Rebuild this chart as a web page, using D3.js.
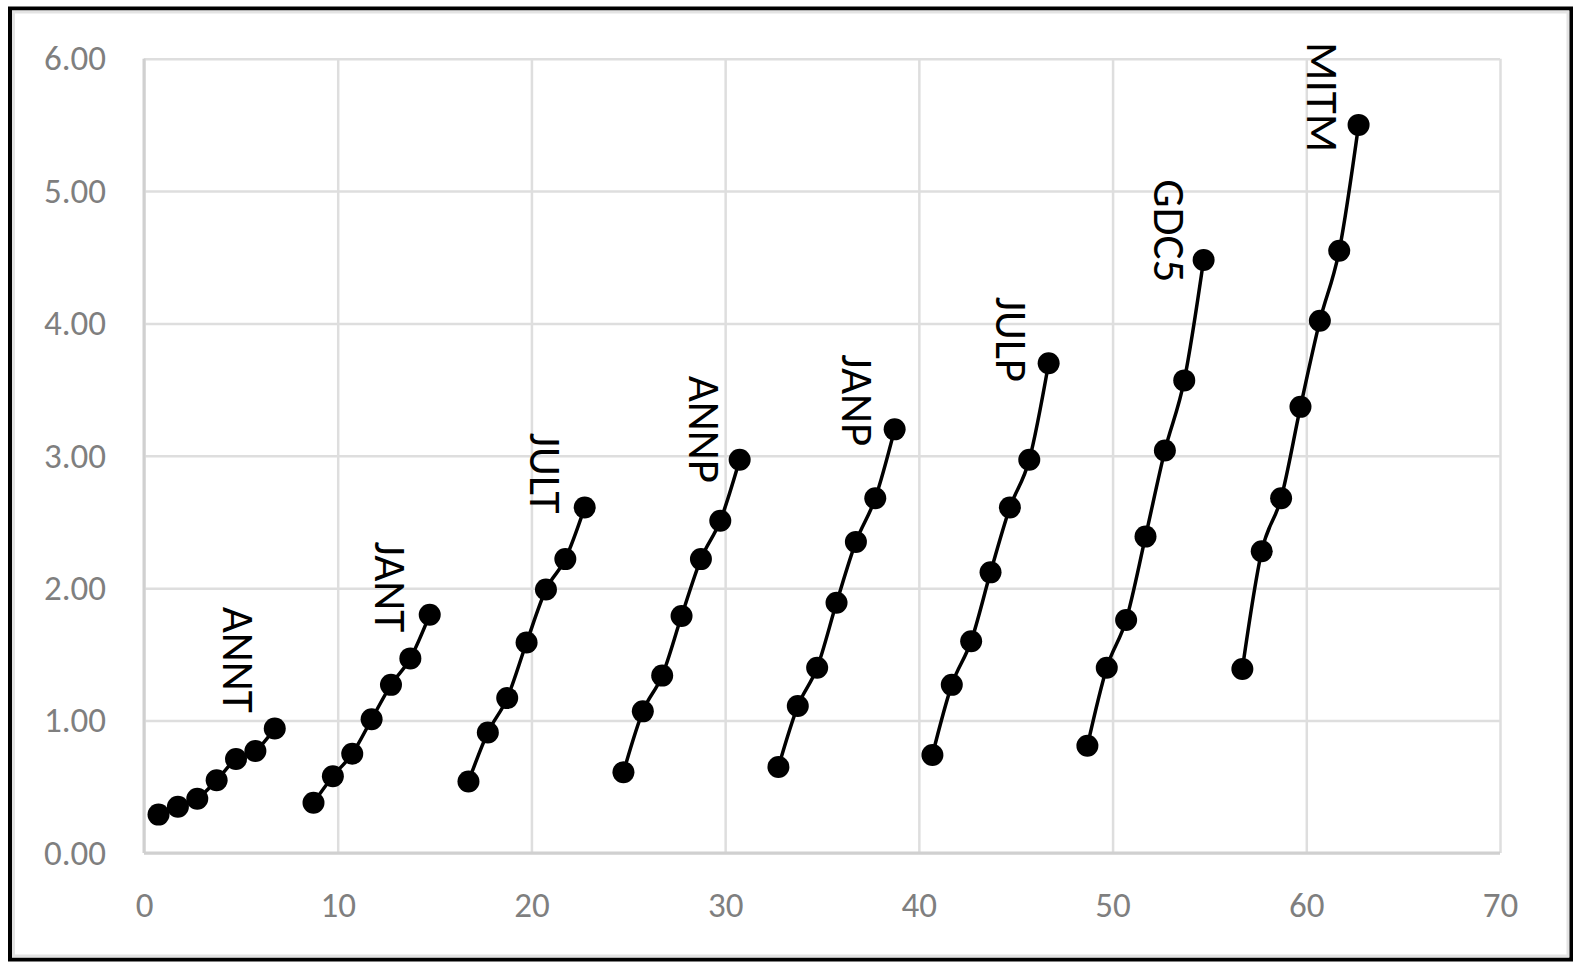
<!DOCTYPE html>
<html lang="en">
<head>
<meta charset="UTF-8"/>
<title>Groups scatter</title>
<script src="https://d3js.org/d3.v7.min.js"></script>
<style>
    body { margin: 0; background: #fff; }
    svg { display: block; }
    .tick-label { font-family: Carlito, Lato, "Open Sans", sans-serif; fill: #7f7f7f; }
    .series-label { font-family: Carlito, Lato, "Open Sans", sans-serif; fill: #000; }
</style>
</head>
<body>
<script>
    // series names, in the order they appear left to right
    var seriesNames = ["ANNT", "JANT", "JULT", "ANNP", "JANP", "JULP", "GDC5", "MITM"];

    // x values (each group sits a bit left of the whole numbers)
    var xANNT = [0.75, 1.75, 2.75, 3.75, 4.75, 5.75, 6.75];
    var xJANT = [8.75, 9.75, 10.75, 11.75, 12.75, 13.75, 14.75];
    var xJULT = [16.75, 17.75, 18.75, 19.75, 20.75, 21.75, 22.75];
    var xANNP = [24.75, 25.75, 26.75, 27.75, 28.75, 29.75, 30.75];
    var xJANP = [32.75, 33.75, 34.75, 35.75, 36.75, 37.75, 38.75];
    var xJULP = [40.7, 41.7, 42.7, 43.7, 44.7, 45.7, 46.7];
    var xGDC5 = [48.7, 49.7, 50.7, 51.7, 52.7, 53.7, 54.7];
    var xMITM = [56.7, 57.7, 58.7, 59.7, 60.7, 61.7, 62.7];

    // y values
    var yANNT = [0.29, 0.35, 0.41, 0.55, 0.71, 0.77, 0.94];
    var yJANT = [0.38, 0.58, 0.75, 1.01, 1.27, 1.47, 1.80];
    var yJULT = [0.54, 0.91, 1.17, 1.59, 1.99, 2.22, 2.61];
    var yANNP = [0.61, 1.07, 1.34, 1.79, 2.22, 2.51, 2.97];
    var yJANP = [0.65, 1.11, 1.40, 1.89, 2.35, 2.68, 3.20];
    var yJULP = [0.74, 1.27, 1.60, 2.12, 2.61, 2.97, 3.70];
    var yGDC5 = [0.81, 1.40, 1.76, 2.39, 3.04, 3.57, 4.48];
    var yMITM = [1.39, 2.28, 2.68, 3.37, 4.02, 4.55, 5.50];

    // where each series name sits (centre of the text, in data units)
    var labelX = [4.9, 12.75, 20.75, 28.95, 36.85, 44.8, 52.95, 60.85];
    var labelY = [1.46, 2.01, 2.87, 3.20, 3.42, 3.88, 4.70, 5.71];

    // axis ticks
    var xTicks = [0, 10, 20, 30, 40, 50, 60, 70];
    var yTicks = [0, 1, 2, 3, 4, 5, 6];

    var allX = [xANNT, xJANT, xJULT, xANNP, xJANP, xJULP, xGDC5, xMITM];
    var allY = [yANNT, yJANT, yJULT, yANNP, yJANP, yJULP, yGDC5, yMITM];
    var series = seriesNames.map(function(name, i) {
        return {
            name: name,
            points: allX[i].map(function(x, j) { return { x: x, y: allY[i][j] }; })
        };
    });

    var W = 1587, H = 969;
    var margin = { top: 58.7, right: 87, bottom: 116, left: 144 };
    var w = W - margin.left - margin.right;
    var h = H - margin.top - margin.bottom;

    var xScale = d3.scaleLinear().domain([0, 70]).range([0, w]);
    var yScale = d3.scaleLinear().domain([0, 6]).range([h, 0]);

    var root = d3.select("body")
                .append("svg")
                .attr("width", W)
                .attr("height", H);

    // chart frame: black outer line with a pale grey line inside it
    root.append("rect")
        .attr("x", 10).attr("y", 8.5)
        .attr("width", 1561).attr("height", 951)
        .attr("fill", "#fff")
        .attr("stroke", "#000")
        .attr("stroke-width", 4);
    root.append("rect")
        .attr("x", 13.5).attr("y", 12)
        .attr("width", 1554.5).attr("height", 944)
        .attr("fill", "none")
        .attr("stroke", "#e3e3e3")
        .attr("stroke-width", 3);

    var svg = root.append("g")
                .attr("transform", "translate(" + margin.left + "," + margin.top + ")");

    // gridlines
    svg.append("g")
       .attr("class", "x-grid")
       .attr("transform", "translate(0," + h + ")")
       .call(d3.axisBottom(xScale).tickValues(xTicks).tickSize(-h).tickFormat(""))
       .call(function(g) { g.select(".domain").remove(); })
       .selectAll("line")
       .attr("stroke", "#dedede")
       .attr("stroke-width", 2.5);

    svg.append("g")
       .attr("class", "y-grid")
       .call(d3.axisLeft(yScale).tickValues(yTicks).tickSize(-w).tickFormat(""))
       .call(function(g) { g.select(".domain").remove(); })
       .selectAll("line")
       .attr("stroke", "#dedede")
       .attr("stroke-width", 2.5);

    // axis lines a touch darker
    svg.append("line")
       .attr("x1", 0).attr("x2", 0).attr("y1", 0).attr("y2", h)
       .attr("stroke", "#d0d0d0").attr("stroke-width", 3);
    svg.append("line")
       .attr("x1", 0).attr("x2", w).attr("y1", h).attr("y2", h)
       .attr("stroke", "#d0d0d0").attr("stroke-width", 3);

    // tick labels
    svg.append("g")
       .attr("class", "x-axis")
       .attr("transform", "translate(0," + h + ")")
       .call(d3.axisBottom(xScale).tickValues(xTicks).tickSize(0).tickPadding(39))
       .call(function(g) { g.select(".domain").remove(); })
       .selectAll("text")
       .attr("class", "tick-label")
       .attr("font-size", 35)
       .attr("fill", null);

    svg.append("g")
       .attr("class", "y-axis")
       .call(d3.axisLeft(yScale).tickValues(yTicks).tickFormat(d3.format(".2f")).tickSize(0).tickPadding(38))
       .call(function(g) { g.select(".domain").remove(); })
       .selectAll("text")
       .attr("class", "tick-label")
       .attr("font-size", 35)
       .attr("fill", null);

    // smoothed lines, like Excel's smooth scatter
    var line = d3.line()
                 .x(function(d) { return xScale(d.x); })
                 .y(function(d) { return yScale(d.y); })
                 .curve(d3.curveCardinal.tension(0));

    var groups = svg.selectAll(".series")
                    .data(series)
                    .enter()
                    .append("g")
                    .attr("class", "series");

    groups.append("path")
          .attr("d", function(d) { return line(d.points); })
          .attr("fill", "none")
          .attr("stroke", "#000")
          .attr("stroke-width", 3.5);

    groups.selectAll("circle")
          .data(function(d) { return d.points; })
          .enter()
          .append("circle")
          .attr("cx", function(d) { return xScale(d.x); })
          .attr("cy", function(d) { return yScale(d.y); })
          .attr("r", 11)
          .attr("fill", "#000");

    // series names, turned to read downwards
    svg.selectAll(".series-label")
       .data(seriesNames)
       .enter()
       .append("text")
       .attr("class", "series-label")
       .attr("font-size", 45)
       .attr("text-anchor", "middle")
       .attr("dy", "0.36em")
       .attr("transform", function(d, i) {
           return "translate(" + xScale(labelX[i]) + "," + yScale(labelY[i]) + ") rotate(90)";
       })
       .text(function(d) { return d; });
</script>
</body>
</html>
